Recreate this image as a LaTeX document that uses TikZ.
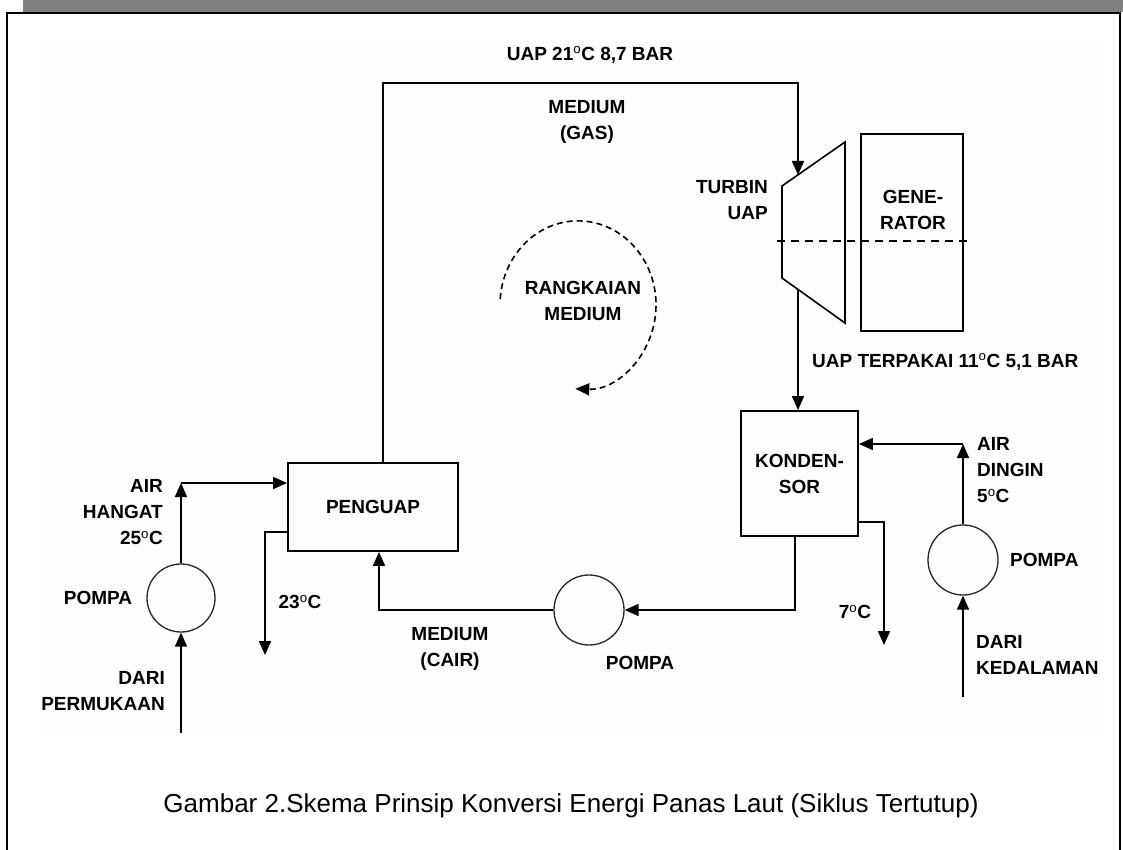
\documentclass[tikz,border=0pt]{standalone}
\usepackage{fontspec}
\setmainfont{Liberation Sans}
\usetikzlibrary{arrows.meta}
\newcommand{\dg}{\textsuperscript{\mdseries o}}
\begin{document}
\begin{tikzpicture}[x=1pt,y=-1pt,
  lbl/.style={font=\bfseries\fontsize{19}{26}\selectfont, inner sep=0pt, align=center},
  box/.style={draw, line width=1.8pt, inner sep=0pt},
  pump/.style={circle, draw=black!85, line width=1.3pt, inner sep=0pt},
  flow/.style={line width=1.6pt, -{Triangle[length=14pt,width=12pt]}},
  pipe/.style={line width=1.6pt}]
\useasboundingbox (0,0) rectangle (1123,850);
\fill[black!50] (23,0) rectangle (1123,12);
\fill[black!0.8] (42,41) rectangle (1102,737);
\draw[line width=1.8pt] (7,852) -- (7,13) -- (1120,13) -- (1120,852);

% boxes
\node[box, lbl, minimum width=170pt, minimum height=88pt] (pg) at (373,507) {PENGUAP};
\node[box, lbl, minimum width=117pt, minimum height=125pt] (kd) at (799.5,473.5) {KONDEN-\\SOR};
\node[box, minimum width=102pt, minimum height=197pt] (gen) at (912,232.5) {};
\node[lbl] (gentxt) at (913,210) {GENE-\\RATOR};

% turbine
\coordinate (t1) at (782,186);
\coordinate (t2) at (845,142);
\coordinate (t3) at (845,323);
\coordinate (t4) at (782,278);
\draw[pipe] (t1) -- (t2) -- (t3) -- (t4) -- cycle;
\coordinate (s1) at (777,241);
\coordinate (s2) at (967,241);
\draw[line width=1.6pt, dash pattern=on 8pt off 6pt] (s1) -- (s2);

% pumps
\node[pump, minimum size=68pt] (lp) at (181,598) {};
\node[pump, minimum size=70pt] (mp) at (589,610) {};
\node[pump, minimum size=70pt] (rp) at (963,560) {};

% coordinates
\coordinate (lpin) at (181,733);
\coordinate (hc) at (181,483);
\coordinate (o23a) at (265,532);
\coordinate (o23b) at (265,655);
\coordinate (top1) at (383,83);
\coordinate (tin) at (798,175);
\coordinate (tout) at (798,289);
\coordinate (kb) at (795,610);
\coordinate (pgin) at (379,610);
\coordinate (ko) at (884,522);
\coordinate (ko2) at (884,645);
\coordinate (rpin) at (963,697);
\coordinate (dc) at (963,444);
\coordinate (arcstart) at (500.2,299);

% connectors
\draw[flow] (lpin) -- (lp.south);
\draw[flow] (lp.north) -- (hc);
\draw[flow] (hc) -- (hc -| pg.west);
\draw[flow] (o23a -| pg.west) -- (o23a) -- (o23b);
\draw[flow] (top1 |- pg.north) -- (top1) -| (tin);
\draw[flow] (tout) -- (tout |- kd.north);
\draw[flow] (kb |- kd.south) -- (kb) -- (mp.east);
\draw[flow] (mp.west) -- (pgin) -- (pgin |- pg.south);
\draw[flow] (ko -| kd.east) -- (ko) -- (ko2);
\draw[flow] (rpin) -- (rp.south);
\draw[flow] (rp.north) -- (dc);
\draw[flow] (dc) -- (dc -| kd.east);

% cycle arc
\draw[line width=1.6pt, dash pattern=on 6pt off 4pt, -{Triangle[length=14pt,width=12pt]}]
  (arcstart) arc[start angle=184, end angle=452, x radius=78, y radius=84];

% labels
\node[lbl] (l1) at (590,55) {UAP 21\dg C 8,7 BAR};
\node[lbl] (l2) at (587,121.5) {MEDIUM\\(GAS)};
\node[lbl, anchor=east, align=right] (l3) at (768,200) {TURBIN\\UAP};
\node[lbl] (l4) at (583,301) {RANGKAIAN\\MEDIUM};
\node[lbl, anchor=west] (l5) at (812,362) {UAP TERPAKAI 11\dg C 5,1 BAR};
\node[lbl, anchor=west, align=left] (l6) at (977,470) {AIR\\DINGIN\\5\dg C};
\node[lbl, anchor=west] (l7) at (1010,560) {POMPA};
\node[lbl, anchor=west, align=left] (l8) at (976,655) {DARI\\KEDALAMAN};
\node[lbl] (l9) at (855,612) {7\dg C};
\node[lbl] (l10) at (640,663) {POMPA};
\node[lbl] (l11) at (450,649) {MEDIUM\\(CAIR)};
\node[lbl, anchor=east, align=right] (l12) at (163,512) {AIR\\HANGAT\\25\dg C};
\node[lbl] (l13) at (98,598) {POMPA};
\node[lbl] (l14) at (300,602) {23\dg C};
\node[lbl, anchor=east, align=right] (l15) at (165,691) {DARI\\PERMUKAAN};
\node[font=\fontsize{26}{30}\selectfont, inner sep=0pt] (cap) at (571,806) {Gambar 2.Skema Prinsip Konversi Energi Panas Laut (Siklus Tertutup)};
\end{tikzpicture}
\end{document}
